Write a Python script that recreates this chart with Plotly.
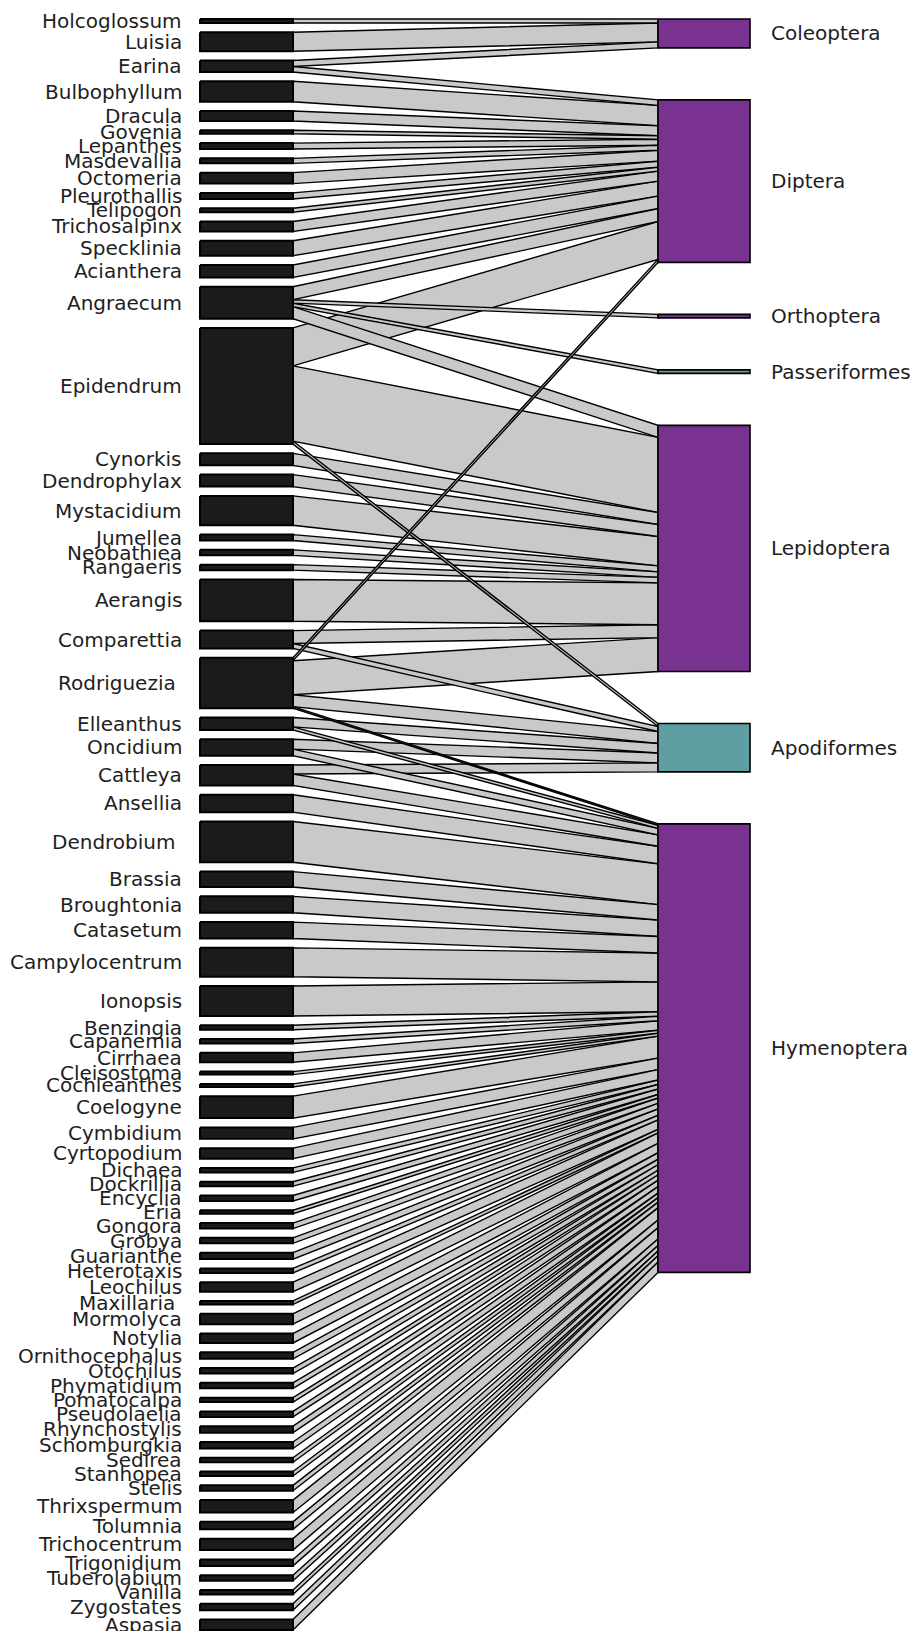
import plotly.graph_objects as go

# Orchid genera (lower level), listed top to bottom
genera = [
    "Holcoglossum", "Luisia", "Earina", "Bulbophyllum", "Dracula", "Govenia",
    "Lepanthes", "Masdevallia", "Octomeria", "Pleurothallis", "Telipogon",
    "Trichosalpinx", "Specklinia", "Acianthera", "Angraecum", "Epidendrum",
    "Cynorkis", "Dendrophylax", "Mystacidium", "Jumellea", "Neobathiea",
    "Rangaeris", "Aerangis", "Comparettia", "Rodriguezia", "Elleanthus",
    "Oncidium", "Cattleya", "Ansellia", "Dendrobium", "Brassia", "Broughtonia",
    "Catasetum", "Campylocentrum", "Ionopsis", "Benzingia", "Capanemia",
    "Cirrhaea", "Cleisostoma", "Cochleanthes", "Coelogyne", "Cymbidium",
    "Cyrtopodium", "Dichaea", "Dockrillia", "Encyclia", "Eria", "Gongora",
    "Grobya", "Guarianthe", "Heterotaxis", "Leochilus", "Maxillaria",
    "Mormolyca", "Notylia", "Ornithocephalus", "Otochilus", "Phymatidium",
    "Pomatocalpa", "Pseudolaelia", "Rhynchostylis", "Schomburgkia", "Sedirea",
    "Stanhopea", "Stelis", "Thrixspermum", "Tolumnia", "Trichocentrum",
    "Trigonidium", "Tuberolabium", "Vanilla", "Zygostates", "Aspasia",
]

# Pollinator orders (higher level), listed top to bottom
orders = ["Coleoptera", "Diptera", "Orthoptera", "Passeriformes",
          "Lepidoptera", "Apodiformes", "Hymenoptera"]
order_colors = ["#7a3290", "#7a3290", "#7a3290", "#5f9fa3",
                "#7a3290", "#5f9fa3", "#7a3290"]

# Interaction strengths between genera and each pollinator order
coleoptera = {"Holcoglossum": 4, "Luisia": 19, "Earina": 6}
diptera = {
    "Earina": 5.5, "Bulbophyllum": 20.5, "Dracula": 10, "Govenia": 3.5,
    "Lepanthes": 6, "Masdevallia": 5, "Octomeria": 11,
    "Pleurothallis": 6, "Telipogon": 4, "Trichosalpinx": 10,
    "Specklinia": 15, "Acianthera": 12.5, "Angraecum": 13,
    "Epidendrum": 38, "Rodriguezia": 3,
}
orthoptera = {"Angraecum": 3.5}
passeriformes = {"Angraecum": 3.5}
lepidoptera = {
    "Angraecum": 12, "Epidendrum": 75.5, "Cynorkis": 12,
    "Dendrophylax": 12, "Mystacidium": 29.5, "Jumellea": 6,
    "Neobathiea": 5.5, "Rangaeris": 5.5, "Aerangis": 42, "Comparettia": 13,
    "Rodriguezia": 34,
}
apodiformes = {
    "Epidendrum": 3, "Comparettia": 5, "Rodriguezia": 12,
    "Elleanthus": 9.5, "Oncidium": 10, "Cattleya": 9,
}
hymenoptera = {
    "Rodriguezia": 1.5, "Elleanthus": 3, "Oncidium": 6.5, "Cattleya": 11.5,
    "Ansellia": 17.5, "Dendrobium": 41, "Brassia": 15.5, "Broughtonia": 16.5,
    "Catasetum": 16.5, "Campylocentrum": 29, "Ionopsis": 30,
    "Benzingia": 4.5, "Capanemia": 4.5, "Cirrhaea": 9.5, "Cleisostoma": 3,
    "Cochleanthes": 3, "Coelogyne": 22, "Cymbidium": 11.5,
    "Cyrtopodium": 10.5, "Dichaea": 4.5, "Dockrillia": 4.5, "Encyclia": 5.5,
    "Eria": 3.5, "Gongora": 5.5, "Grobya": 5.5, "Guarianthe": 6.5,
    "Heterotaxis": 4.5, "Leochilus": 9.5, "Maxillaria": 3.5,
    "Mormolyca": 10.5, "Notylia": 9.5, "Ornithocephalus": 6.5,
    "Otochilus": 5.5, "Phymatidium": 5.5, "Pomatocalpa": 4.5,
    "Pseudolaelia": 5.5, "Rhynchostylis": 6.5, "Schomburgkia": 6.5,
    "Sedirea": 4.5, "Stanhopea": 4.5, "Stelis": 5.5, "Thrixspermum": 12.5,
    "Tolumnia": 7.5, "Trichocentrum": 11.5, "Trigonidium": 6.5,
    "Tuberolabium": 5.5, "Vanilla": 4.5, "Zygostates": 6.5, "Aspasia": 10.5,
}

# Labels printed with a little trailing room
padded_labels = {"Rodriguezia", "Dendrobium", "Maxillaria"}

web = dict(zip(orders, [coleoptera, diptera, orthoptera, passeriformes,
                        lepidoptera, apodiformes, hymenoptera]))

# ---- layout of the two levels (page pixel units) ----
W, H = 918, 1631
TOP = 19
LOW_BOTTOM = 1630
LOW_GAP = 9.3
HIGH_GAP = 52
LOW_X0, LOW_X1 = 200, 293
HIGH_X0, HIGH_X1 = 658, 750
FONT = dict(family="DejaVu Sans", size=20, color="#1e1e1e")

low_tot = [sum(web[o].get(g, 0) for o in orders) for g in genera]
high_tot = [sum(web[o].values()) for o in orders]
scale = (LOW_BOTTOM - TOP - LOW_GAP * (len(genera) - 1)) / sum(low_tot)

low_y = []
y = TOP
for t in low_tot:
    low_y.append(y)
    y += t * scale + LOW_GAP
high_y = []
y = TOP
for t in high_tot:
    high_y.append(y)
    y += t * scale + HIGH_GAP

# segment of every link on each side (ordered like the opposite level)
left_seg, right_seg = {}, {}
for g, y0 in zip(genera, low_y):
    c = y0
    for o in orders:
        v = web[o].get(g, 0)
        if v:
            left_seg[(g, o)] = (c, c + v * scale)
            c += v * scale
for o, y0 in zip(orders, high_y):
    c = y0
    for g in genera:
        v = web[o].get(g, 0)
        if v:
            right_seg[(g, o)] = (c, c + v * scale)
            c += v * scale

fig = go.Figure()

# interaction bands: wide ones first so the narrow ones stay visible on top
links = sorted(left_seg, key=lambda k: -web[k[1]][k[0]])
for g, o in links:
    a0, a1 = left_seg[(g, o)]
    b0, b1 = right_seg[(g, o)]
    fig.add_trace(go.Scatter(
        x=[LOW_X1, HIGH_X0, HIGH_X0, LOW_X1, LOW_X1],
        y=[a0, b0, b1, a1, a0],
        mode="lines", fill="toself", fillcolor="#c9c9c9",
        line=dict(color="black", width=1.4),
        hoverinfo="skip", showlegend=False,
    ))

# lower-level boxes (genera)
bx, by = [], []
for t, y0 in zip(low_tot, low_y):
    y1 = y0 + t * scale
    bx += [LOW_X0, LOW_X1, LOW_X1, LOW_X0, LOW_X0, None]
    by += [y0, y0, y1, y1, y0, None]
fig.add_trace(go.Scatter(
    x=bx, y=by, mode="lines", fill="toself", fillcolor="#1b1b1b",
    line=dict(color="black", width=2), hoverinfo="skip", showlegend=False,
))

# higher-level boxes (pollinator orders)
for o, t, y0, col in zip(orders, high_tot, high_y, order_colors):
    y1 = y0 + t * scale
    fig.add_trace(go.Scatter(
        x=[HIGH_X0, HIGH_X1, HIGH_X1, HIGH_X0, HIGH_X0],
        y=[y0, y0, y1, y1, y0],
        mode="lines", fill="toself", fillcolor=col,
        line=dict(color="black", width=1.6),
        hoverinfo="skip", showlegend=False,
    ))

annotations = []
for g, t, y0 in zip(genera, low_tot, low_y):
    label = g + ("\u00a0" if g in padded_labels else "")
    annotations.append(dict(
        x=183, y=y0 + t * scale / 2, xref="x", yref="y", text=label,
        showarrow=False, xanchor="right", yanchor="middle", font=FONT,
        borderpad=0,
    ))
for o, t, y0 in zip(orders, high_tot, high_y):
    annotations.append(dict(
        x=770, y=y0 + t * scale / 2, xref="x", yref="y", text=o,
        showarrow=False, xanchor="left", yanchor="middle", font=FONT,
        borderpad=0,
    ))

fig.update_layout(
    width=W, height=H,
    margin=dict(l=0, r=0, t=0, b=0),
    paper_bgcolor="white", plot_bgcolor="white",
    xaxis=dict(range=[0, W], visible=False, fixedrange=True),
    yaxis=dict(range=[H, 0], visible=False, fixedrange=True),
    annotations=annotations,
    showlegend=False,
)

fig.write_html("out.html")
